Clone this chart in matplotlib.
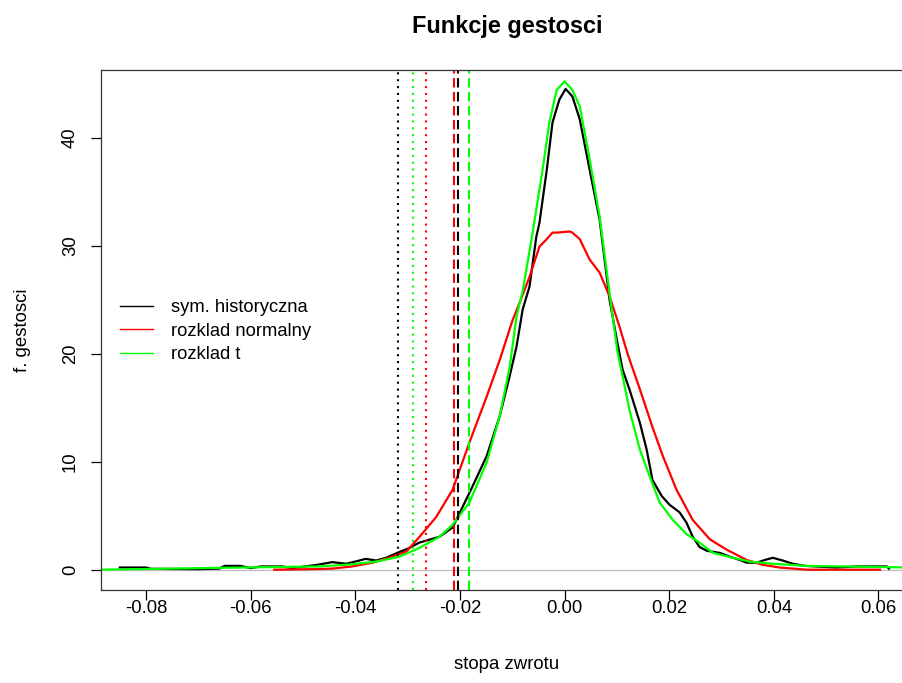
import matplotlib
matplotlib.use("Agg")
import matplotlib.pyplot as plt

plt.rcParams["font.family"] = ["Liberation Sans", "DejaVu Sans"]

# sym. historyczna (gestosc empiryczna)
hist_x = [-0.0850, -0.0800, -0.0790, -0.0700, -0.0660, -0.0650, -0.0620, -0.0600,
          -0.0580, -0.0540, -0.0520, -0.0473, -0.0444, -0.0417, -0.0392, -0.0380,
          -0.0360, -0.0341, -0.0320, -0.0297, -0.0278, -0.0239, -0.0214, -0.0195,
          -0.0176, -0.0149, -0.0124, -0.0105, -0.0092, -0.0080, -0.0067, -0.0054,
          -0.0048, -0.0034, -0.0023, -0.0010, 0.0002, 0.0015, 0.0029, 0.0048,
          0.0067, 0.0086, 0.0101, 0.0111, 0.0124, 0.0144, 0.0157, 0.0168,
          0.0186, 0.0201, 0.0220, 0.0233, 0.0245, 0.0258, 0.0272, 0.0297,
          0.0316, 0.0335, 0.0348, 0.0367, 0.0383, 0.0398, 0.0417, 0.0436,
          0.0460, 0.0520, 0.0560, 0.0565, 0.0616, 0.0620]
hist_y = [0.20, 0.20, 0.08, 0.05, 0.10, 0.35, 0.35, 0.15,
          0.30, 0.30, 0.15, 0.45, 0.70, 0.55, 0.85, 1.00,
          0.85, 1.10, 1.55, 2.00, 2.50, 3.05, 3.90, 5.80,
          7.70, 10.5, 14.2, 17.9, 20.6, 24.1, 26.2, 30.8,
          32.1, 37.0, 41.4, 43.5, 44.5, 43.8, 41.7, 37.0,
          32.4, 25.0, 21.0, 18.5, 16.7, 13.6, 11.1, 8.3,
          6.8, 6.0, 5.3, 4.35, 3.05, 2.1, 1.75, 1.55,
          1.2, 0.9, 0.65, 0.65, 0.9, 1.1, 0.85, 0.55,
          0.35, 0.2, 0.3, 0.3, 0.3, 0.1]

# rozklad normalny
norm_x = [-0.0555, -0.0480, -0.0444, -0.0406, -0.0367, -0.0335, -0.0302, -0.0278,
          -0.0245, -0.0214, -0.0182, -0.0149, -0.0124, -0.0100, -0.0086, -0.0067,
          -0.0048, -0.0034, -0.0023, -0.0015, 0.0010, 0.0015, 0.0029, 0.0048,
          0.0067, 0.0086, 0.0105, 0.0121, 0.0144, 0.0168, 0.0188, 0.0214,
          0.0245, 0.0278, 0.0310, 0.0348, 0.0379, 0.0411, 0.0463, 0.0603]
norm_y = [0.0, 0.05, 0.1, 0.3, 0.65, 1.1, 1.7, 3.0,
          4.9, 7.4, 11.75, 16.0, 19.4, 23.0, 24.7, 27.1,
          29.9, 30.6, 31.2, 31.2, 31.3, 31.2, 30.6, 28.7,
          27.5, 25.3, 22.5, 19.9, 16.7, 13.2, 10.5, 7.4,
          4.6, 2.8, 1.85, 0.9, 0.45, 0.2, 0.0, 0.0]

# rozklad t
t_x = [-0.0886, -0.0752, -0.0650, -0.0545, -0.0469, -0.0406, -0.0360, -0.0316,
       -0.0278, -0.0239, -0.0214, -0.0182, -0.0149, -0.0124, -0.0105, -0.0092,
       -0.0080, -0.0061, -0.0042, -0.0029, -0.0015, 0.0000, 0.0015, 0.0029,
       0.0048, 0.0067, 0.0086, 0.0101, 0.0111, 0.0124, 0.0144, 0.0163,
       0.0182, 0.0207, 0.0233, 0.0258, 0.0284, 0.0322, 0.0354, 0.0398,
       0.0463, 0.0526, 0.0666]
t_y = [0.0, 0.1, 0.18, 0.25, 0.30, 0.50, 0.75, 1.2,
       2.0, 3.05, 4.15, 6.2, 9.9, 14.2, 18.7, 23.4,
       25.8, 31.2, 37.0, 41.4, 44.4, 45.2, 44.4, 42.9,
       38.0, 32.7, 25.6, 20.2, 17.9, 14.8, 11.1, 8.6,
       6.2, 4.6, 3.3, 2.5, 1.55, 1.1, 0.75, 0.55,
       0.35, 0.3, 0.2]

# VaR: kropkowane i przerywane linie pionowe
var_dotted = {"black": -0.03183, "#00FF00": -0.02898, "#FF0000": -0.0264}
var_dashed = {"#FF0000": -0.02104, "black": -0.02041, "#00FF00": -0.01825}

legend_labels = ["sym. historyczna", "rozklad normalny", "rozklad t"]

fig = plt.figure(figsize=(9.02, 6.83), dpi=100)
ax = fig.add_axes([101 / 902, 1 - 590 / 683, 812 / 902, 520 / 683])

ax.axhline(0, color="#BEBEBE", lw=0.9, zorder=1)
ax.plot(hist_x, hist_y, color="black", lw=1.6, label=legend_labels[0])
ax.plot(norm_x, norm_y, color="#FF0000", lw=1.6, label=legend_labels[1])
ax.plot(t_x, t_y, color="#00FF00", lw=1.6, label=legend_labels[2])

for c, v in var_dotted.items():
    ax.axvline(v, color=c, lw=1.5, dashes=(1, 2.3))
for c, v in var_dashed.items():
    ax.axvline(v, color=c, lw=1.5, dashes=(4.5, 2.2))

ax.set_xlim(-0.0886, 0.0666)
ax.set_ylim(-1.88, 46.25)
ax.set_xticks([-0.08, -0.06, -0.04, -0.02, 0.00, 0.02, 0.04, 0.06])
ax.set_xticklabels(["-0.08", "-0.06", "-0.04", "-0.02", "0.00", "0.02", "0.04", "0.06"])
ax.set_yticks([0, 10, 20, 30, 40])
ax.tick_params(axis="both", direction="out", length=7, width=0.9, labelsize=13.3,
               colors="black")
ax.tick_params(axis="x", pad=0.5)
ax.tick_params(axis="y", pad=9)
for lab in ax.get_yticklabels():
    lab.set_rotation(90)
    lab.set_va("center")
for s in ax.spines.values():
    s.set_linewidth(0.9)
    s.set_color("#333333")

ax.set_xlabel("stopa zwrotu", fontsize=13.4, labelpad=28)
ax.set_ylabel("f. gestosci", fontsize=13.4, labelpad=22)
ax.set_title("Funkcje gestosci", fontsize=16.9, fontweight="bold", pad=27)

leg = ax.legend(loc="upper left", bbox_to_anchor=(120 / 902, 1 - 299 / 683),
                bbox_transform=fig.transFigure, frameon=False, fontsize=13.2,
                handlelength=1.8, handletextpad=1.0, borderpad=0, borderaxespad=0,
                labelspacing=0.36)
for line in leg.get_lines():
    line.set_linewidth(1.0)

fig.savefig("out.png", dpi=100)
